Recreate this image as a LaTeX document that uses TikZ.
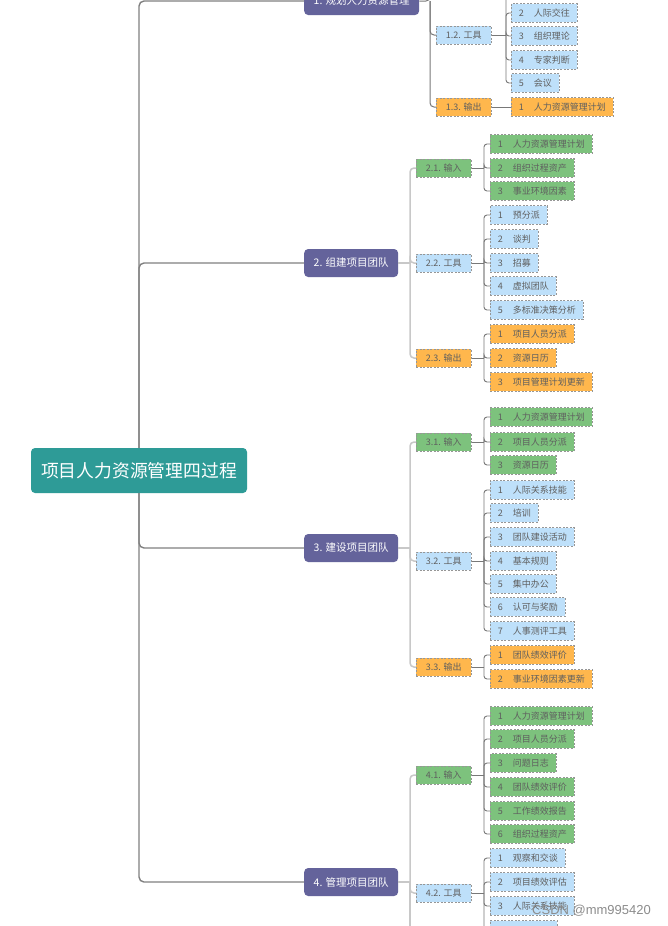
\documentclass[tikz,border=0pt]{standalone}
\usepackage{fontspec}
\setmainfont{Noto Sans CJK SC}
\newfontfamily\wmfont{Liberation Sans}
\definecolor{rootc}{RGB}{46,155,151}
\definecolor{purp}{RGB}{100,99,155}
\definecolor{gfill}{RGB}{125,194,125}
\definecolor{bfill}{RGB}{190,224,250}
\definecolor{ofill}{RGB}{255,183,77}
\definecolor{bord}{RGB}{150,150,150}
\definecolor{txt}{RGB}{95,95,95}
\definecolor{spinec}{RGB}{128,128,128}
\definecolor{l2c}{RGB}{200,200,200}
\definecolor{l3c}{RGB}{120,120,120}
\definecolor{wmc}{RGB}{140,140,140}
\tikzset{
 rootbox/.style={fill=rootc, text=white, rounded corners=4pt, font=\fontsize{17.8}{21}\selectfont, minimum height=45pt, minimum width=216pt, inner xsep=8pt, inner ysep=0pt},
 topicbox/.style={fill=purp, text=white, rounded corners=4pt, font=\fontsize{10.5}{12}\selectfont, minimum height=28pt, inner xsep=9.5pt, inner ysep=0pt, anchor=west},
 subbox/.style={draw=bord, dash pattern=on 2pt off 1.5pt, line width=0.6pt, text=txt, font=\fontsize{9}{11}\selectfont, minimum height=18pt, minimum width=55pt, inner ysep=0pt, anchor=west},
 leafbox/.style={subbox, minimum width=0pt, inner xsep=7.5pt, minimum height=18.5pt},
 gG/.style={fill=gfill}, gB/.style={fill=bfill}, gO/.style={fill=ofill},
 spine/.style={draw=spinec, line width=1.4pt, rounded corners=5pt},
 l2line/.style={draw=l2c, line width=1.5pt, rounded corners=4pt},
 l2lineA/.style={draw=l3c, line width=1pt, rounded corners=4pt},
 l3line/.style={draw=l3c, line width=0.9pt, rounded corners=3pt},
}
\begin{document}
\begin{tikzpicture}[x=1pt,y=-1pt]
\fill[white] (0,0) rectangle (668,926);
\useasboundingbox (0,0) rectangle (668,926);

% root and main topics
\node[rootbox] (root) at (139,470.5) {项目人力资源管理四过程};
\node[topicbox] (n1) at (304,1) {1. 规划人力资源管理};
\node[topicbox] (n2) at (304,263) {2. 组建项目团队};
\node[topicbox] (n3) at (304,548) {3. 建设项目团队};
\node[topicbox] (n4) at (304,882) {4. 管理项目团队};
\draw[spine] (root.north) |- (n1.west);
\draw[spine] (root.north) |- (n2.west);
\draw[spine] (root.south) |- (n3.west);
\draw[spine] (root.south) |- (n4.west);

% ---------- group 1
\coordinate (j1) at (430,1);
\coordinate (t1) at (430,-30);
\draw[l2lineA] (n1.east) -- (j1) -- (t1);
\node[subbox,gB] (n12) at (436,35) {1.2. 工具};
\node[subbox,gO] (n13) at (436,107) {1.3. 输出};
\foreach \k in {n12,n13} \draw[l2lineA] (j1) |- (\k.west);
\coordinate (j12) at (506,35);
\coordinate (c121) at (511,-12);
\draw[l3line] (n12.east) -- (j12);
\draw[l3line] (j12) |- (c121);
\foreach \i/\y/\t in {2/13/人际交往,3/36/组织理论,4/60/专家判断,5/83/会议}{
  \node[leafbox,gB] (a12\i) at (511,\y) {\i\hspace{10pt}\t};
  \draw[l3line] (j12) |- (a12\i.west);}
\node[leafbox,gO] (a131) at (511,107) {1\hspace{10pt}人力资源管理计划};
\draw[l3line] (n13.east) -- (a131.west);

% ---------- group 2
\coordinate (j2) at (410,263);
\draw[l2line] (n2.east) -- (j2);
\node[subbox,gG] (n21) at (416,168) {2.1. 输入};
\node[subbox,gB] (n22) at (416,263) {2.2. 工具};
\node[subbox,gO] (n23) at (416,358) {2.3. 输出};
\foreach \k in {n21,n22,n23} \draw[l2line] (j2) |- (\k.west);
\coordinate (j21) at (484,168);
\draw[l3line] (n21.east) -- (j21);
\foreach \i/\y/\t in {1/144/人力资源管理计划,2/168/组织过程资产,3/191/事业环境因素}{
  \node[leafbox,gG] (a21\i) at (490,\y) {\i\hspace{10pt}\t};
  \draw[l3line] (j21) |- (a21\i.west);}
\coordinate (j22) at (484,263);
\draw[l3line] (n22.east) -- (j22);
\foreach \i/\y/\t in {1/215/预分派,2/239/谈判,3/263/招募,4/286/虚拟团队,5/310/多标准决策分析}{
  \node[leafbox,gB] (a22\i) at (490,\y) {\i\hspace{10pt}\t};
  \draw[l3line] (j22) |- (a22\i.west);}
\coordinate (j23) at (484,358);
\draw[l3line] (n23.east) -- (j23);
\foreach \i/\y/\t in {1/334/项目人员分派,2/358/资源日历,3/382/项目管理计划更新}{
  \node[leafbox,gO] (a23\i) at (490,\y) {\i\hspace{10pt}\t};
  \draw[l3line] (j23) |- (a23\i.west);}

% ---------- group 3
\coordinate (j3) at (410,548);
\draw[l2line] (n3.east) -- (j3);
\node[subbox,gG] (n31) at (416,442) {3.1. 输入};
\node[subbox,gB] (n32) at (416,561) {3.2. 工具};
\node[subbox,gO] (n33) at (416,667) {3.3. 输出};
\foreach \k in {n31,n32,n33} \draw[l2line] (j3) |- (\k.west);
\coordinate (j31) at (484,442);
\draw[l3line] (n31.east) -- (j31);
\foreach \i/\y/\t in {1/417/人力资源管理计划,2/442/项目人员分派,3/465/资源日历}{
  \node[leafbox,gG] (a31\i) at (490,\y) {\i\hspace{10pt}\t};
  \draw[l3line] (j31) |- (a31\i.west);}
\coordinate (j32) at (484,561);
\draw[l3line] (n32.east) -- (j32);
\foreach \i/\y/\t in {1/490/人际关系技能,2/513/培训,3/537/团队建设活动,4/561/基本规则,5/584/集中办公,6/607/认可与奖励,7/631/人事测评工具}{
  \node[leafbox,gB] (a32\i) at (490,\y) {\i\hspace{10pt}\t};
  \draw[l3line] (j32) |- (a32\i.west);}
\coordinate (j33) at (484,667);
\draw[l3line] (n33.east) -- (j33);
\foreach \i/\y/\t in {1/655/团队绩效评价,2/679/事业环境因素更新}{
  \node[leafbox,gO] (a33\i) at (490,\y) {\i\hspace{10pt}\t};
  \draw[l3line] (j33) |- (a33\i.west);}

% ---------- group 4
\coordinate (j4) at (410,882);
\coordinate (b4) at (410,940);
\draw[l2line] (n4.east) -- (j4);
\node[subbox,gG] (n41) at (416,775) {4.1. 输入};
\node[subbox,gB] (n42) at (416,893) {4.2. 工具};
\foreach \k in {n41,n42} \draw[l2line] (j4) |- (\k.west);
\draw[l2line] (j4) -- (b4);
\coordinate (j41) at (484,775);
\draw[l3line] (n41.east) -- (j41);
\foreach \i/\y/\t in {1/716/人力资源管理计划,2/739/项目人员分派,3/763/问题日志,4/787/团队绩效评价,5/811/工作绩效报告,6/834/组织过程资产}{
  \node[leafbox,gG] (a41\i) at (490,\y) {\i\hspace{10pt}\t};
  \draw[l3line] (j41) |- (a41\i.west);}
\coordinate (j42) at (484,893);
\draw[l3line] (n42.east) -- (j42);
\foreach \i/\y/\t in {1/858/观察和交谈,2/882/项目绩效评估,3/906/人际关系技能}{
  \node[leafbox,gB] (a42\i) at (490,\y) {\i\hspace{10pt}\t};
  \draw[l3line] (j42) |- (a42\i.west);}
\node[leafbox,gB,minimum width=67pt] (a424) at (490,930) {};
\draw[l3line] (j42) |- (a424.west);

% watermark
\node[font=\wmfont\fontsize{13}{15}\selectfont, text=wmc, anchor=west, inner sep=0pt] (wm) at (532,911) {CSDN @mm995420};
\end{tikzpicture}
\end{document}
